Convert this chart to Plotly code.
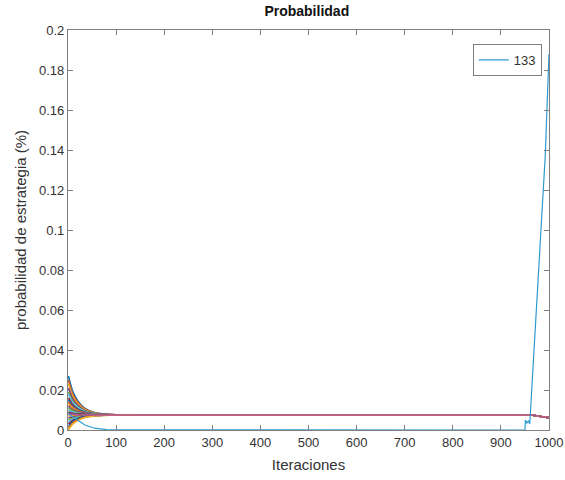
import plotly.graph_objects as go

# iteration knots for the early (converging) phase
early_iters = [1, 10, 20, 35, 55, 80, 100]
# shared tail of all converging strategies
tail_iters = [200, 900, 950, 960, 1000]
tail_values = [0.0075, 0.0075, 0.0075, 0.0075, 0.0061]

# probabilities of the converging strategies at early_iters
fan_values = [
    [0.0270, 0.0192, 0.0147, 0.0108, 0.0088, 0.0079, 0.0076],
    [0.0250, 0.0180, 0.0140, 0.0105, 0.0086, 0.0079, 0.0076],
    [0.0230, 0.0168, 0.0132, 0.0101, 0.0085, 0.0078, 0.0076],
    [0.0210, 0.0156, 0.0125, 0.0098, 0.0084, 0.0078, 0.0076],
    [0.0190, 0.0144, 0.0118, 0.0095, 0.0082, 0.0077, 0.0075],
    [0.0180, 0.0138, 0.0114, 0.0093, 0.0082, 0.0077, 0.0075],
    [0.0160, 0.0126, 0.0106, 0.0089, 0.0081, 0.0077, 0.0075],
    [0.0150, 0.0120, 0.0103, 0.0088, 0.0080, 0.0077, 0.0075],
    [0.0140, 0.0114, 0.0099, 0.0086, 0.0079, 0.0076, 0.0075],
    [0.0130, 0.0108, 0.0095, 0.0084, 0.0079, 0.0076, 0.0075],
    [0.0120, 0.0102, 0.0092, 0.0083, 0.0078, 0.0076, 0.0075],
    [0.0110, 0.0096, 0.0088, 0.0081, 0.0077, 0.0076, 0.0075],
    [0.0100, 0.0090, 0.0084, 0.0079, 0.0077, 0.0075, 0.0075],
    [0.0090, 0.0084, 0.0081, 0.0078, 0.0076, 0.0075, 0.0075],
    [0.0085, 0.0081, 0.0079, 0.0077, 0.0076, 0.0075, 0.0075],
    [0.0080, 0.0078, 0.0077, 0.0076, 0.0075, 0.0075, 0.0075],
    [0.0070, 0.0072, 0.0073, 0.0074, 0.0075, 0.0075, 0.0075],
    [0.0060, 0.0066, 0.0069, 0.0072, 0.0074, 0.0075, 0.0075],
    [0.0050, 0.0060, 0.0066, 0.0071, 0.0073, 0.0075, 0.0075],
    [0.0040, 0.0054, 0.0062, 0.0069, 0.0073, 0.0074, 0.0075],
    [0.0030, 0.0048, 0.0058, 0.0067, 0.0072, 0.0074, 0.0075],
    [0.0020, 0.0042, 0.0055, 0.0066, 0.0071, 0.0074, 0.0075],
    [0.0010, 0.0036, 0.0051, 0.0064, 0.0071, 0.0074, 0.0075],
    [0.0000, 0.0030, 0.0047, 0.0062, 0.0070, 0.0073, 0.0075],
]

# strategy 133 (the winner)
s133_iters = [1, 10, 20, 35, 55, 80, 100, 950, 951, 954, 957, 960, 990, 992, 1000]
s133_values = [0.0080, 0.0065, 0.0050, 0.0025, 0.0009, 0.0002, 0.0001, 0.0,
               0.0050, 0.0035, 0.0045, 0.0030, 0.128, 0.136, 0.188]

x_ticks = [0, 100, 200, 300, 400, 500, 600, 700, 800, 900, 1000]
y_ticks = [0, 0.02, 0.04, 0.06, 0.08, 0.1, 0.12, 0.14, 0.16, 0.18, 0.2]
y_tick_text = ["0", "0.02", "0.04", "0.06", "0.08", "0.1", "0.12", "0.14", "0.16", "0.18", "0.2"]

matlab_colors = ["#0072BD", "#D95319", "#EDB120", "#7E2F8E", "#77AC30", "#4DBEEE", "#A2142F"]

fig = go.Figure()
for i, vals in enumerate(fan_values):
    fig.add_trace(go.Scatter(
        x=early_iters + tail_iters, y=vals + tail_values,
        mode="lines", line=dict(color=matlab_colors[i % 7], width=1.6, shape="spline"),
        showlegend=False, hoverinfo="skip"))

# a magenta-ish line drawn on top of the flat part
fig.add_trace(go.Scatter(
    x=early_iters + tail_iters, y=fan_values[15] + tail_values,
    mode="lines", line=dict(color="#B0509A", width=1.4, shape="spline"),
    showlegend=False, hoverinfo="skip"))

fig.add_trace(go.Scatter(
    x=s133_iters, y=s133_values, mode="lines", name="133",
    line=dict(color="#2E9AD0", width=1.2)))

font = "Liberation Sans, Arial, sans-serif"
axis_common = dict(
    showgrid=False, zeroline=False, showline=True, mirror="ticks",
    linecolor="#808080", linewidth=1.2, ticks="inside", ticklen=5,
    tickcolor="#808080", tickfont=dict(family=font, size=13, color="#333"),
    automargin=False,
)

fig.update_layout(
    width=565, height=480,
    margin=dict(l=68, r=16, t=30, b=50),
    paper_bgcolor="white", plot_bgcolor="white",
    title=dict(text="<b>Probabilidad</b>", x=0.543, xanchor="center", y=0.977, yanchor="middle",
               font=dict(family=font, size=14, color="#111")),
    xaxis=dict(range=[0, 1000], tickvals=x_ticks,
               title=dict(text="Iteraciones", font=dict(family=font, size=15, color="#333"), standoff=10),
               **axis_common),
    yaxis=dict(range=[0, 0.2], tickvals=y_ticks, ticktext=y_tick_text,
               title=dict(text="probabilidad de estrategia (%)", font=dict(family=font, size=15, color="#333"), standoff=8),
               **axis_common),
    legend=dict(x=0.985, y=0.965, xanchor="right", yanchor="top",
                bordercolor="#808080", borderwidth=1, bgcolor="white",
                font=dict(family=font, size=13, color="#333")),
    showlegend=True,
)

fig.write_html("out.html")
